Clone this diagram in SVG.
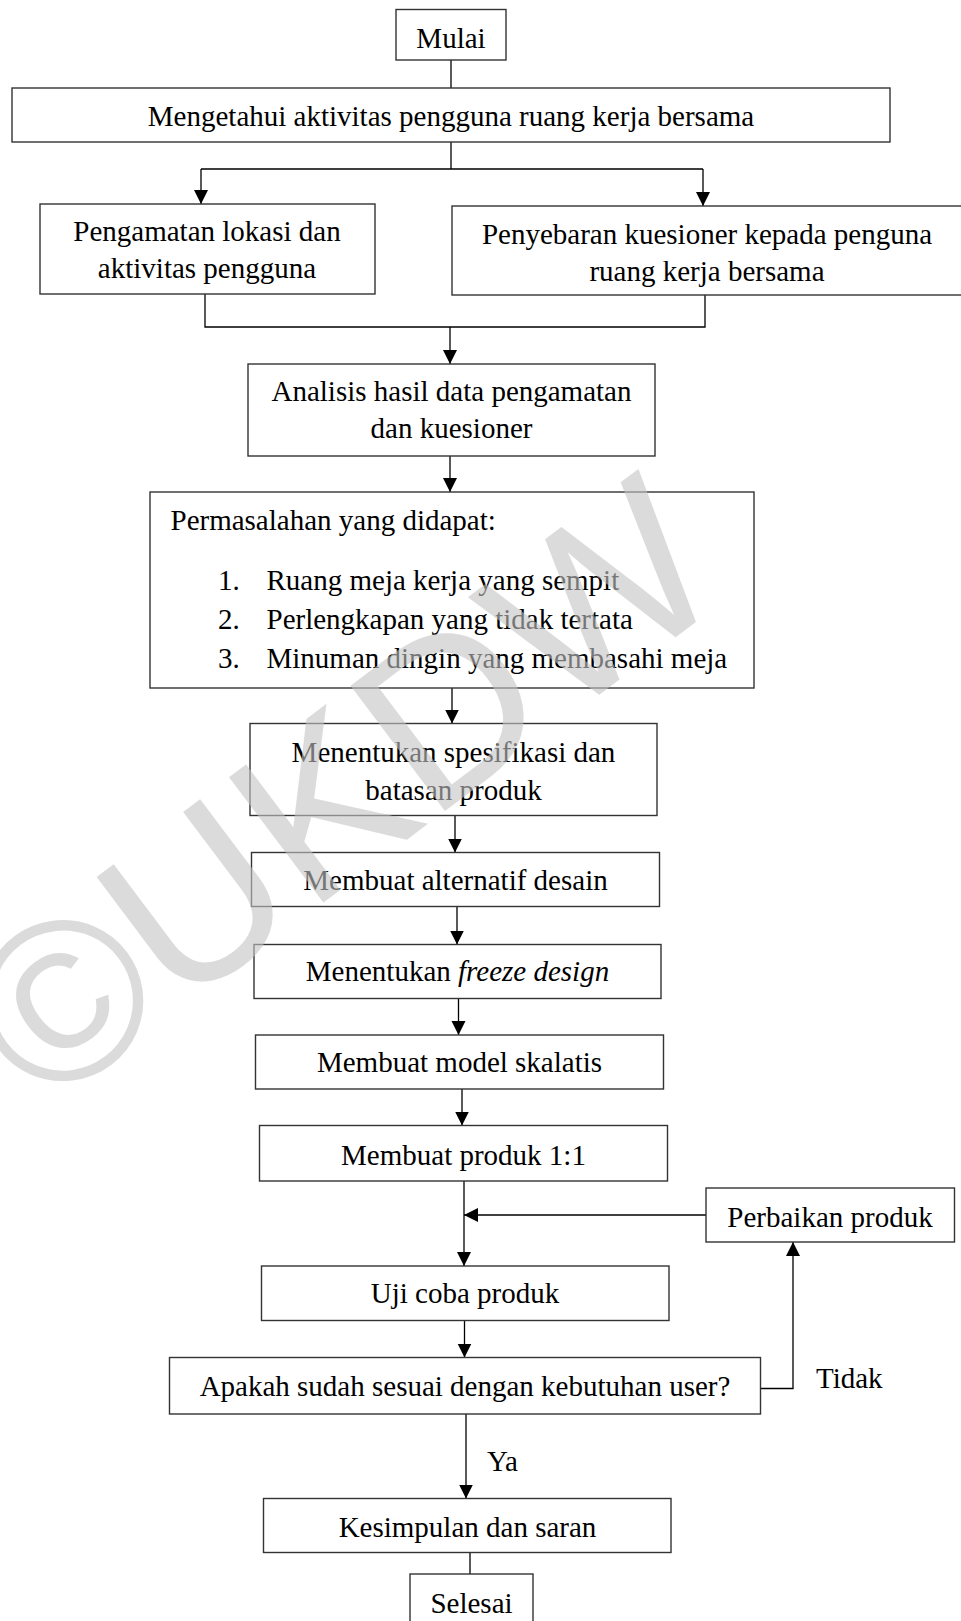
<svg xmlns="http://www.w3.org/2000/svg" width="961" height="1621" viewBox="0 0 961 1621">
<defs>
<style>
.b{fill:#fff;stroke:#333;stroke-width:1.4}
.c{fill:none;stroke:#000;stroke-width:1.3}
.t{font-family:"Liberation Serif","Times New Roman",serif;font-size:29px;fill:#000}
.m{text-anchor:middle}
.wm{font-family:"Liberation Sans",Arial,sans-serif;font-size:228px;fill:#c4c4c4;opacity:0.6}
</style>
<marker id="ah" markerUnits="userSpaceOnUse" markerWidth="15" markerHeight="15" refX="14" refY="7" orient="auto">
<path d="M0,0 L14,7 L0,14 z" fill="#000"/>
</marker>
</defs>
<rect width="961" height="1621" fill="#fff"/>
<g id="connectors">
<path class="c" d="M451,60 V88"/>
<path class="c" d="M451,142 V169 M201,169 H703"/>
<path class="c" d="M201,169 V204" marker-end="url(#ah)"/>
<path class="c" d="M703,169 V206" marker-end="url(#ah)"/>
<path class="c" d="M205,294 V327 H705 V295"/>
<path class="c" d="M450,327 V364" marker-end="url(#ah)"/>
<path class="c" d="M450,456 V492" marker-end="url(#ah)"/>
<path class="c" d="M452,688 V723.5" marker-end="url(#ah)"/>
<path class="c" d="M455,815.5 V852.5" marker-end="url(#ah)"/>
<path class="c" d="M457,906.5 V944.5" marker-end="url(#ah)"/>
<path class="c" d="M458.5,998.5 V1035" marker-end="url(#ah)"/>
<path class="c" d="M462,1089 V1125.5" marker-end="url(#ah)"/>
<path class="c" d="M464,1181 V1266" marker-end="url(#ah)"/>
<path class="c" d="M706,1215 H464" marker-end="url(#ah)"/>
<path class="c" d="M464.5,1320.5 V1357.5" marker-end="url(#ah)"/>
<path class="c" d="M760.5,1388.5 H793 V1242" marker-end="url(#ah)"/>
<path class="c" d="M466,1414 V1498.5" marker-end="url(#ah)"/>
<path class="c" d="M470,1552.5 V1574"/>
<text class="t" x="816" y="1388">Tidak</text>
<text class="t" x="487" y="1471">Ya</text>
</g>
<g id="n-mulai"><rect class="b" x="396" y="9.5" width="110" height="50.5"/><text class="t m" x="451" y="48">Mulai</text></g>
<g id="n-mengetahui"><rect class="b" x="12" y="88" width="878" height="54"/><text class="t m" x="451" y="126">Mengetahui aktivitas pengguna ruang kerja bersama</text></g>
<g id="n-pengamatan"><rect class="b" x="40" y="204" width="335" height="90"/><text class="t m" x="207" y="241">Pengamatan lokasi dan</text><text class="t m" x="207" y="278">aktivitas pengguna</text></g>
<g id="n-penyebaran"><rect class="b" x="452" y="206" width="510" height="89"/><text class="t m" x="707" y="243.5">Penyebaran kuesioner kepada penguna</text><text class="t m" x="707" y="281">ruang kerja bersama</text></g>
<g id="n-analisis"><rect class="b" x="248" y="364" width="407" height="92"/><text class="t m" x="451.5" y="401">Analisis hasil data pengamatan</text><text class="t m" x="451.5" y="438">dan kuesioner</text></g>
<g id="n-permasalahan"><rect class="b" x="150" y="492" width="604" height="196"/>
<text class="t" x="170.5" y="530">Permasalahan yang didapat:</text>
<text class="t" x="218" y="590">1.</text><text class="t" x="266.5" y="590">Ruang meja kerja yang sempit</text>
<text class="t" x="218" y="629">2.</text><text class="t" x="266.5" y="629">Perlengkapan yang tidak tertata</text>
<text class="t" x="218" y="668">3.</text><text class="t" x="266.5" y="668">Minuman dingin yang membasahi meja</text></g>
<g id="n-spesifikasi"><rect class="b" x="250" y="723.5" width="407" height="92"/><text class="t m" x="453.5" y="762">Menentukan spesifikasi dan</text><text class="t m" x="453.5" y="800">batasan produk</text></g>
<g id="n-alternatif"><rect class="b" x="251.5" y="852.5" width="408" height="54"/><text class="t m" x="455.5" y="890">Membuat alternatif desain</text></g>
<g id="n-freeze"><rect class="b" x="254" y="944.5" width="407" height="54"/><text class="t m" x="457.5" y="981">Menentukan <tspan font-style="italic">freeze design</tspan></text></g>
<g id="n-skalatis"><rect class="b" x="255.5" y="1035" width="408" height="54"/><text class="t m" x="459.5" y="1072">Membuat model skalatis</text></g>
<g id="n-produk"><rect class="b" x="259.5" y="1125.5" width="408" height="55.5"/><text class="t m" x="463.5" y="1165">Membuat produk 1:1</text></g>
<g id="n-perbaikan"><rect class="b" x="706" y="1188" width="248.5" height="54"/><text class="t m" x="830" y="1227">Perbaikan produk</text></g>
<g id="n-uji"><rect class="b" x="261.5" y="1266" width="407.5" height="54.5"/><text class="t m" x="465" y="1303">Uji coba produk</text></g>
<g id="n-apakah"><rect class="b" x="169.5" y="1357.5" width="591" height="56.5"/><text class="t m" x="465" y="1396">Apakah sudah sesuai dengan kebutuhan user?</text></g>
<g id="n-kesimpulan"><rect class="b" x="263.5" y="1498.5" width="407.5" height="54"/><text class="t m" x="467.5" y="1537">Kesimpulan dan saran</text></g>
<g id="n-selesai"><rect class="b" x="410" y="1574" width="123" height="48"/><text class="t m" x="471.5" y="1613">Selesai</text></g>
<text class="wm m" transform="translate(340,790) rotate(-37)" y="80">©UKDW</text>
</svg>
